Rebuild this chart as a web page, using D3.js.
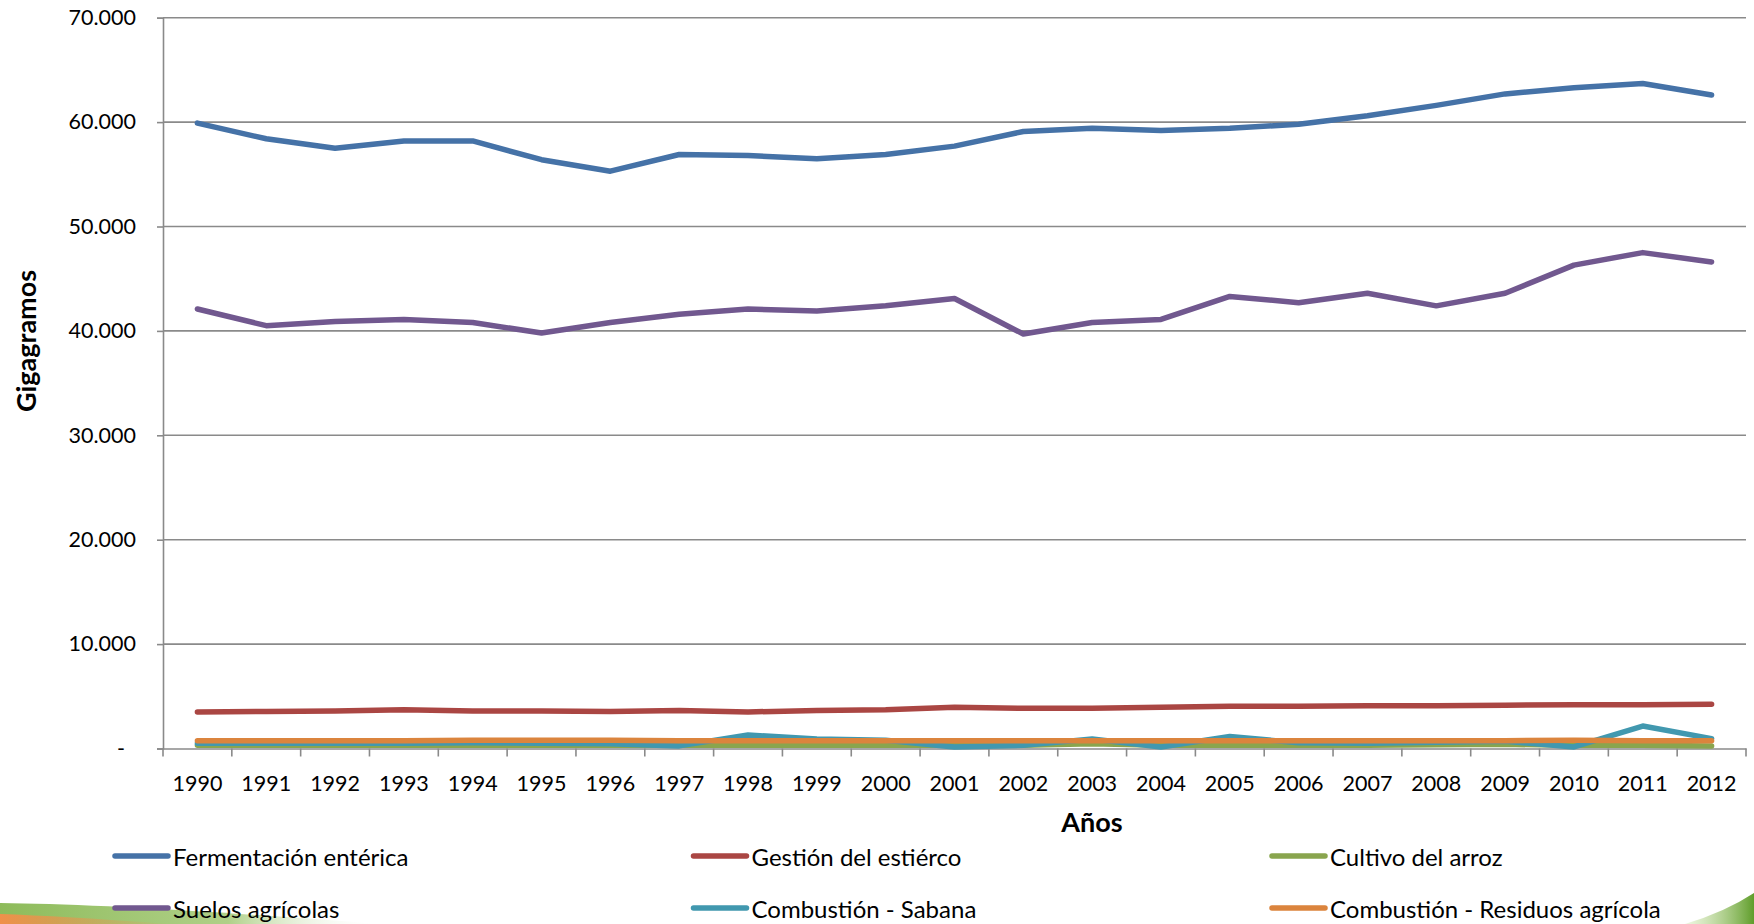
<!DOCTYPE html>
<html>
<head>
<meta charset="utf-8">
<script src="https://cdn.jsdelivr.net/npm/d3@7"></script>
<style>
  body { margin: 0; background: #fff; }
  text { font-family: Lato, "Open Sans", sans-serif; fill: #000; }
</style>
</head>
<body>
<div id="chart"></div>
<script>
// data
var years = ["1990","1991","1992","1993","1994","1995","1996","1997","1998","1999","2000","2001",
  "2002","2003","2004","2005","2006","2007","2008","2009","2010","2011","2012"];
var fermentacion = [59900, 58400, 57500, 58200, 58200, 56400, 55300, 56900, 56800, 56500, 56900, 57700,
  59100, 59400, 59200, 59400, 59800, 60600, 61600, 62700, 63300, 63700, 62600];
var gestion = [3500, 3550, 3600, 3700, 3600, 3600, 3550, 3650, 3500, 3650, 3700, 3950,
  3850, 3850, 3950, 4050, 4050, 4100, 4100, 4150, 4200, 4200, 4250];
var cultivo = [300, 300, 300, 300, 320, 300, 300, 300, 300, 300, 300, 300,
  300, 450, 300, 320, 300, 300, 350, 400, 300, 300, 250];
var suelos = [42100, 40500, 40900, 41100, 40800, 39800, 40800, 41600, 42100, 41900, 42400, 43100,
  39700, 40800, 41100, 43300, 42700, 43600, 42400, 43600, 46300, 47500, 46600];
var sabana = [500, 500, 500, 500, 550, 500, 450, 250, 1300, 900, 800, 150,
  300, 900, 150, 1150, 550, 500, 600, 700, 150, 2150, 950];
var residuos = [750, 750, 750, 750, 800, 800, 780, 750, 750, 750, 750, 750,
  750, 750, 750, 750, 750, 750, 750, 750, 780, 750, 750];
var seriesNames = ["Fermentación entérica", "Gestión del estiérco", "Cultivo del arroz",
  "Suelos agrícolas", "Combustión - Sabana", "Combustión - Residuos agrícola"];
var yTicks = [0, 10000, 20000, 30000, 40000, 50000, 60000, 70000];

var series = [fermentacion, gestion, cultivo, suelos, sabana, residuos];
var colors = ["#4572a7", "#aa4643", "#89a54e", "#71588f", "#4198af", "#db843d"];

// svg container
var svgWidth = 1754;
var svgHeight = 924;
var plot = { left: 163, right: 1746, top: 17.7, bottom: 748.5 };

var svg = d3.select("#chart")
  .append("svg")
  .attr("width", svgWidth)
  .attr("height", svgHeight);

// slide decoration at the bottom corners
var defs = svg.append("defs");
var g1 = defs.append("linearGradient").attr("id", "swooshL").attr("x1", 0).attr("x2", 1).attr("y1", 0).attr("y2", 0);
g1.append("stop").attr("offset", "0%").attr("stop-color", "#8dbb5a");
g1.append("stop").attr("offset", "60%").attr("stop-color", "#9cc46a").attr("stop-opacity", 0.8);
g1.append("stop").attr("offset", "100%").attr("stop-color", "#ffffff").attr("stop-opacity", 0);
var g2 = defs.append("linearGradient").attr("id", "swooshO").attr("x1", 0).attr("x2", 1).attr("y1", 0).attr("y2", 0);
g2.append("stop").attr("offset", "0%").attr("stop-color", "#f0904a");
g2.append("stop").attr("offset", "100%").attr("stop-color", "#f0904a").attr("stop-opacity", 0);
var g3 = defs.append("linearGradient").attr("id", "swooshR").attr("x1", 0).attr("x2", 1).attr("y1", 0).attr("y2", 0);
g3.append("stop").attr("offset", "0%").attr("stop-color", "#c5df9a").attr("stop-opacity", 0.3);
g3.append("stop").attr("offset", "100%").attr("stop-color", "#5f9d2a");

svg.append("path").attr("d", "M0,903 Q120,904 380,924 L0,924 Z").attr("fill", "url(#swooshL)");
svg.append("path").attr("d", "M0,914 Q60,916 170,924 L0,924 Z").attr("fill", "url(#swooshO)");
svg.append("path").attr("d", "M1685,924 Q1725,912 1754,893 L1754,924 Z").attr("fill", "url(#swooshR)");

// scales
var x = d3.scaleBand()
  .domain(years)
  .range([plot.left, plot.right]);

var y = d3.scaleLinear()
  .domain([0, 70000])
  .range([plot.bottom, plot.top]);

var loc = d3.formatLocale({ decimal: ",", thousands: ".", grouping: [3], currency: ["$", ""] });
var fmt = loc.format(",.0f");

// gridlines
svg.append("g")
  .selectAll("line")
  .data(yTicks.slice(1))
  .enter()
  .append("line")
  .attr("x1", plot.left)
  .attr("x2", plot.right)
  .attr("y1", d => y(d))
  .attr("y2", d => y(d))
  .attr("stroke", "#8a8a8a")
  .attr("stroke-width", 1.6);

// y axis
var leftAxis = d3.axisLeft(y)
  .tickValues(yTicks)
  .tickSize(6)
  .tickPadding(21)
  .tickFormat(d => d === 0 ? "-" : fmt(d));

var yAxis = svg.append("g")
  .attr("transform", `translate(${plot.left}, 0)`)
  .call(leftAxis);
yAxis.selectAll("path, line").attr("stroke", "#8a8a8a").attr("stroke-width", 1.6);
yAxis.selectAll("text")
  .attr("font-size", "21.5px")
  .attr("font-family", "Lato, sans-serif")
  .attr("fill", "#000")
  .attr("dx", d => d === 0 ? -11 : 0);

// x axis (labels at category centre, ticks at category edges)
var bottomAxis = d3.axisBottom(x).tickSize(0).tickPadding(27);
var xAxis = svg.append("g")
  .attr("transform", `translate(0, ${plot.bottom})`)
  .call(bottomAxis);
xAxis.select(".domain").attr("stroke", "#8a8a8a").attr("stroke-width", 1.6);
xAxis.selectAll("text")
  .attr("font-size", "21.5px")
  .attr("font-family", "Lato, sans-serif")
  .attr("fill", "#000");

var edges = years.map(d => x(d)).concat([x.range()[1]]);
svg.append("g")
  .selectAll("line")
  .data(edges)
  .enter()
  .append("line")
  .attr("x1", d => d)
  .attr("x2", d => d)
  .attr("y1", plot.bottom)
  .attr("y2", plot.bottom + 8)
  .attr("stroke", "#8a8a8a")
  .attr("stroke-width", 1.6);

// lines
var line = d3.line()
  .x((d, i) => x(years[i]) + x.bandwidth() / 2)
  .y(d => y(d));

svg.append("g")
  .selectAll("path")
  .data(series)
  .enter()
  .append("path")
  .attr("d", d => line(d))
  .attr("fill", "none")
  .attr("stroke", (d, i) => colors[i])
  .attr("stroke-width", 5.5)
  .attr("stroke-linecap", "round")
  .attr("stroke-linejoin", "round");

// axis titles
svg.append("text")
  .attr("x", 1092)
  .attr("y", 821)
  .attr("text-anchor", "middle")
  .attr("dominant-baseline", "central")
  .attr("font-size", "27px")
  .attr("font-weight", "bold")
  .text("Años");

svg.append("text")
  .attr("transform", "translate(25, 341) rotate(-90)")
  .attr("text-anchor", "middle")
  .attr("dominant-baseline", "central")
  .attr("font-size", "27px")
  .attr("font-weight", "bold")
  .text("Gigagramos");

// legend
var legend = svg.append("g")
  .selectAll("g")
  .data(seriesNames)
  .enter()
  .append("g")
  .attr("transform", (d, i) => `translate(${115 + (i % 3) * 578.5}, ${856 + Math.floor(i / 3) * 52})`);

legend.append("line")
  .attr("x1", 0)
  .attr("x2", 53)
  .attr("y1", 0)
  .attr("y2", 0)
  .attr("stroke", (d, i) => colors[i])
  .attr("stroke-width", 5.5)
  .attr("stroke-linecap", "round");

legend.append("text")
  .attr("x", 58)
  .attr("y", 0)
  .attr("dominant-baseline", "central")
  .attr("font-size", "24px")
  .text(d => d);
</script>
</body>
</html>
